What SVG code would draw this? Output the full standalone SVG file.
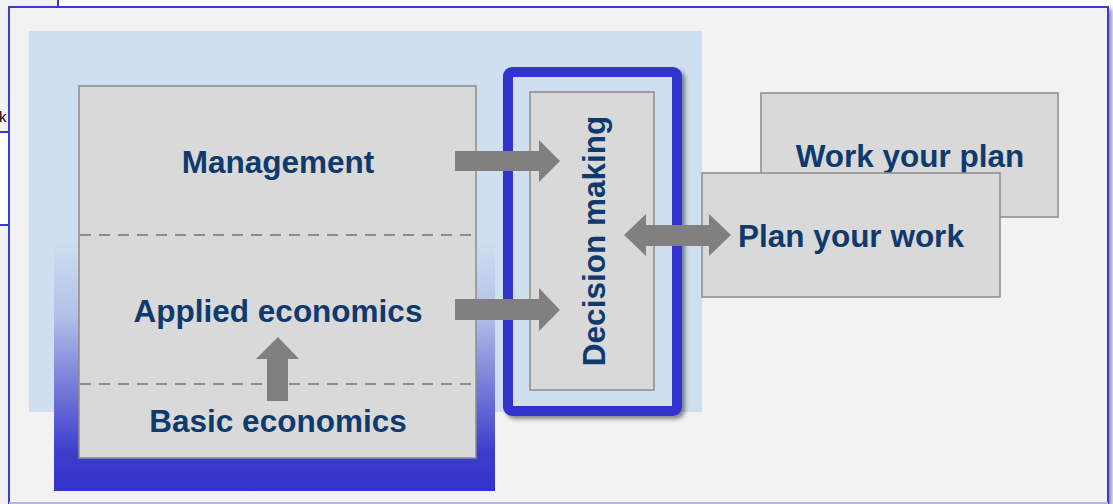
<svg xmlns="http://www.w3.org/2000/svg" width="1113" height="504" viewBox="0 0 1113 504">
  <style>
    .lbl { font-family: "Liberation Sans", Arial, sans-serif; font-weight: bold; font-size: 31.5px; fill: #0f3a6e; }
    .box { fill: #d9d9d9; stroke: #8c8c8c; stroke-width: 1.5; }
    .arr { fill: #808080; }
    .dash { stroke: #8c8c8c; stroke-width: 2; stroke-dasharray: 11 8; }
  </style>
  <defs>
    <linearGradient id="grad" x1="0" y1="0" x2="0" y2="1">
      <stop offset="0" stop-color="#cfdff0"/>
      <stop offset="0.3" stop-color="#b4c0e8"/>
      <stop offset="0.85" stop-color="#3c3ccc"/>
      <stop offset="1" stop-color="#3333cc"/>
    </linearGradient>
    <filter id="shadow" x="-10%" y="-10%" width="130%" height="130%">
      <feGaussianBlur in="SourceAlpha" stdDeviation="2"/>
      <feOffset dx="3" dy="3"/>
      <feComponentTransfer><feFuncA type="linear" slope="0.45"/></feComponentTransfer>
      <feMerge><feMergeNode/><feMergeNode in="SourceGraphic"/></feMerge>
    </filter>
  </defs>

  <!-- desktop background -->
  <rect x="0" y="0" width="1113" height="504" fill="#ffffff"/>
  <g id="behind-windows">
    <rect x="-2" y="-2" width="60" height="134" fill="#f2f2f2" stroke="#3a3ad0" stroke-width="2"/>
    <text x="-1" y="122" font-family="Liberation Sans, Arial, sans-serif" font-size="15" fill="#000">k</text>
    <rect x="-2" y="225" width="20" height="290" fill="#f2f2f2" stroke="#3a3ad0" stroke-width="2"/>
  </g>

  <!-- main panel -->
  <g id="panel">
    <rect x="9" y="7" width="1099" height="496" fill="#f2f2f2" stroke="#3a3ad0" stroke-width="2" filter="url(#shadow)"/>
    <line x1="9" y1="503" x2="1108" y2="503" stroke="#b4b4e6" stroke-width="2"/>
  </g>

  <g id="backdrop">
    <rect x="29" y="31" width="673" height="381" fill="#cfdff0"/>
    <rect x="54" y="240" width="441" height="251" fill="url(#grad)"/>
  </g>

  <g id="economics">
    <rect class="box" x="79" y="86" width="397" height="372"/>
    <line class="dash" x1="80" y1="235" x2="476" y2="235"/>
    <line class="dash" x1="80" y1="384" x2="476" y2="384"/>
  </g>
  <g id="management">
    <text class="lbl" x="278" y="173" text-anchor="middle">Management</text>
  </g>
  <g id="applied-economics">
    <text class="lbl" x="278" y="322" text-anchor="middle">Applied economics</text>
  </g>
  <g id="basic-economics">
    <text class="lbl" x="278" y="432" text-anchor="middle">Basic economics</text>
  </g>

  <g id="decision-making">
    <rect x="508" y="72" width="169" height="339" rx="4" fill="#cfdff0" stroke="#3333cc" stroke-width="10" filter="url(#shadow)"/>
    <rect class="box" x="530" y="92" width="124" height="298"/>
    <text class="lbl" transform="translate(605,241) rotate(-90)" text-anchor="middle">Decision making</text>
  </g>

  <g id="work-your-plan">
    <rect class="box" x="761" y="93" width="297" height="124"/>
    <text class="lbl" x="910" y="167" text-anchor="middle">Work your plan</text>
  </g>
  <g id="plan-your-work">
    <rect class="box" x="702" y="173" width="298" height="124"/>
    <text class="lbl" x="851" y="247" text-anchor="middle">Plan your work</text>
  </g>

  <g id="connectors">
    <polygon class="arr" points="455,151 539,151 539,140 560,161 539,182 539,171 455,171"/>
    <polygon class="arr" points="455,299 539,299 539,288 560,310 539,331 539,320 455,320"/>
    <polygon class="arr" points="267,401 267,359 256,359 278,337 299,359 288,359 288,401"/>
    <polygon class="arr" points="624,235 646,214 646,225 709,225 709,214 731,235 709,256 709,246 646,246 646,256"/>
  </g>
</svg>
